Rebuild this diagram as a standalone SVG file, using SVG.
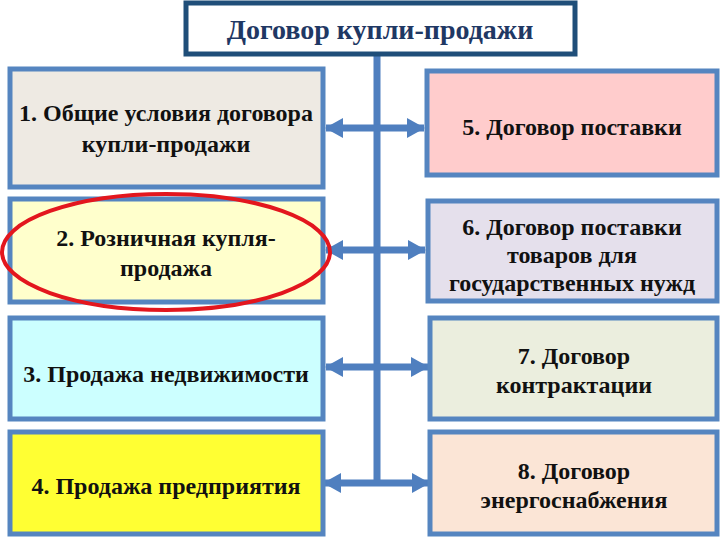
<svg xmlns="http://www.w3.org/2000/svg" width="720" height="540" viewBox="0 0 720 540">
<style>
.box{stroke:#5585C0;stroke-width:5}
.t{font-family:"Liberation Serif","DejaVu Serif",serif;font-weight:bold;font-size:24px;fill:#111;text-anchor:middle}
.conn{stroke:#4F7FBF;stroke-width:7;fill:none}
</style>
<defs>
<marker id="ah" viewBox="0 0 18 20" refX="17" refY="10" markerWidth="18" markerHeight="20" orient="auto-start-reverse" markerUnits="userSpaceOnUse">
<path d="M0,0 L18,10 L0,20 z" fill="#4F7FBF"/>
</marker>
</defs>
<rect width="720" height="540" fill="#fff"/>
<g id="connectors">
<line class="conn" x1="377" y1="55" x2="377" y2="484"/>
<line class="conn" x1="326" y1="128" x2="424" y2="128" marker-start="url(#ah)" marker-end="url(#ah)"/>
<line class="conn" x1="326" y1="250" x2="425" y2="250" marker-start="url(#ah)" marker-end="url(#ah)"/>
<line class="conn" x1="326" y1="367" x2="428" y2="367" marker-start="url(#ah)" marker-end="url(#ah)"/>
<line class="conn" x1="324" y1="483" x2="429" y2="483" marker-start="url(#ah)" marker-end="url(#ah)"/>
</g>
<g id="title">
<rect x="186" y="3" width="389" height="51" fill="#fff" stroke="#1F4E79" stroke-width="5"/>
<text x="380" y="39" style="font-family:'Liberation Serif','DejaVu Serif',serif;font-weight:bold;font-size:28px;fill:#1F3864;text-anchor:middle">Договор купли-продажи</text>
</g>
<g id="n1">
<rect class="box" x="10" y="69" width="313" height="118" fill="#EEEAE3"/>
<text class="t" x="166" y="121">1. Общие условия договора</text>
<text class="t" x="166" y="152">купли-продажи</text>
</g>
<g id="n2">
<rect class="box" x="10" y="199" width="313" height="103" fill="#FFFFCC"/>
<text class="t" x="166" y="246">2. Розничная купля-</text>
<text class="t" x="166" y="276">продажа</text>
</g>
<g id="n3">
<rect class="box" x="10" y="318" width="313" height="101" fill="#CCFFFF"/>
<text class="t" x="166" y="382">3. Продажа недвижимости</text>
</g>
<g id="n4">
<rect class="box" x="10" y="432" width="313" height="102" fill="#FFFF33"/>
<text class="t" x="166" y="494">4. Продажа предприятия</text>
</g>
<g id="n5">
<rect class="box" x="427" y="71" width="290" height="104" fill="#FFCCCC"/>
<text class="t" x="572" y="135">5. Договор поставки</text>
</g>
<g id="n6">
<rect class="box" x="428" y="201" width="289" height="100" fill="#E5E0EC"/>
<text class="t" x="572" y="235">6. Договор поставки</text>
<text class="t" x="572" y="263">товаров для</text>
<text class="t" x="572" y="291">государственных нужд</text>
</g>
<g id="n7">
<rect class="box" x="430" y="318" width="287" height="101" fill="#EBEEDE"/>
<text class="t" x="574" y="364">7. Договор</text>
<text class="t" x="574" y="393">контрактации</text>
</g>
<g id="n8">
<rect class="box" x="430" y="432" width="287" height="102" fill="#FBE5D6"/>
<text class="t" x="574" y="479">8. Договор</text>
<text class="t" x="574" y="508">энергоснабжения</text>
</g>
<g id="highlight">
<ellipse cx="166" cy="252" rx="164" ry="58" fill="none" stroke="#E3161E" stroke-width="4"/>
</g>
</svg>
